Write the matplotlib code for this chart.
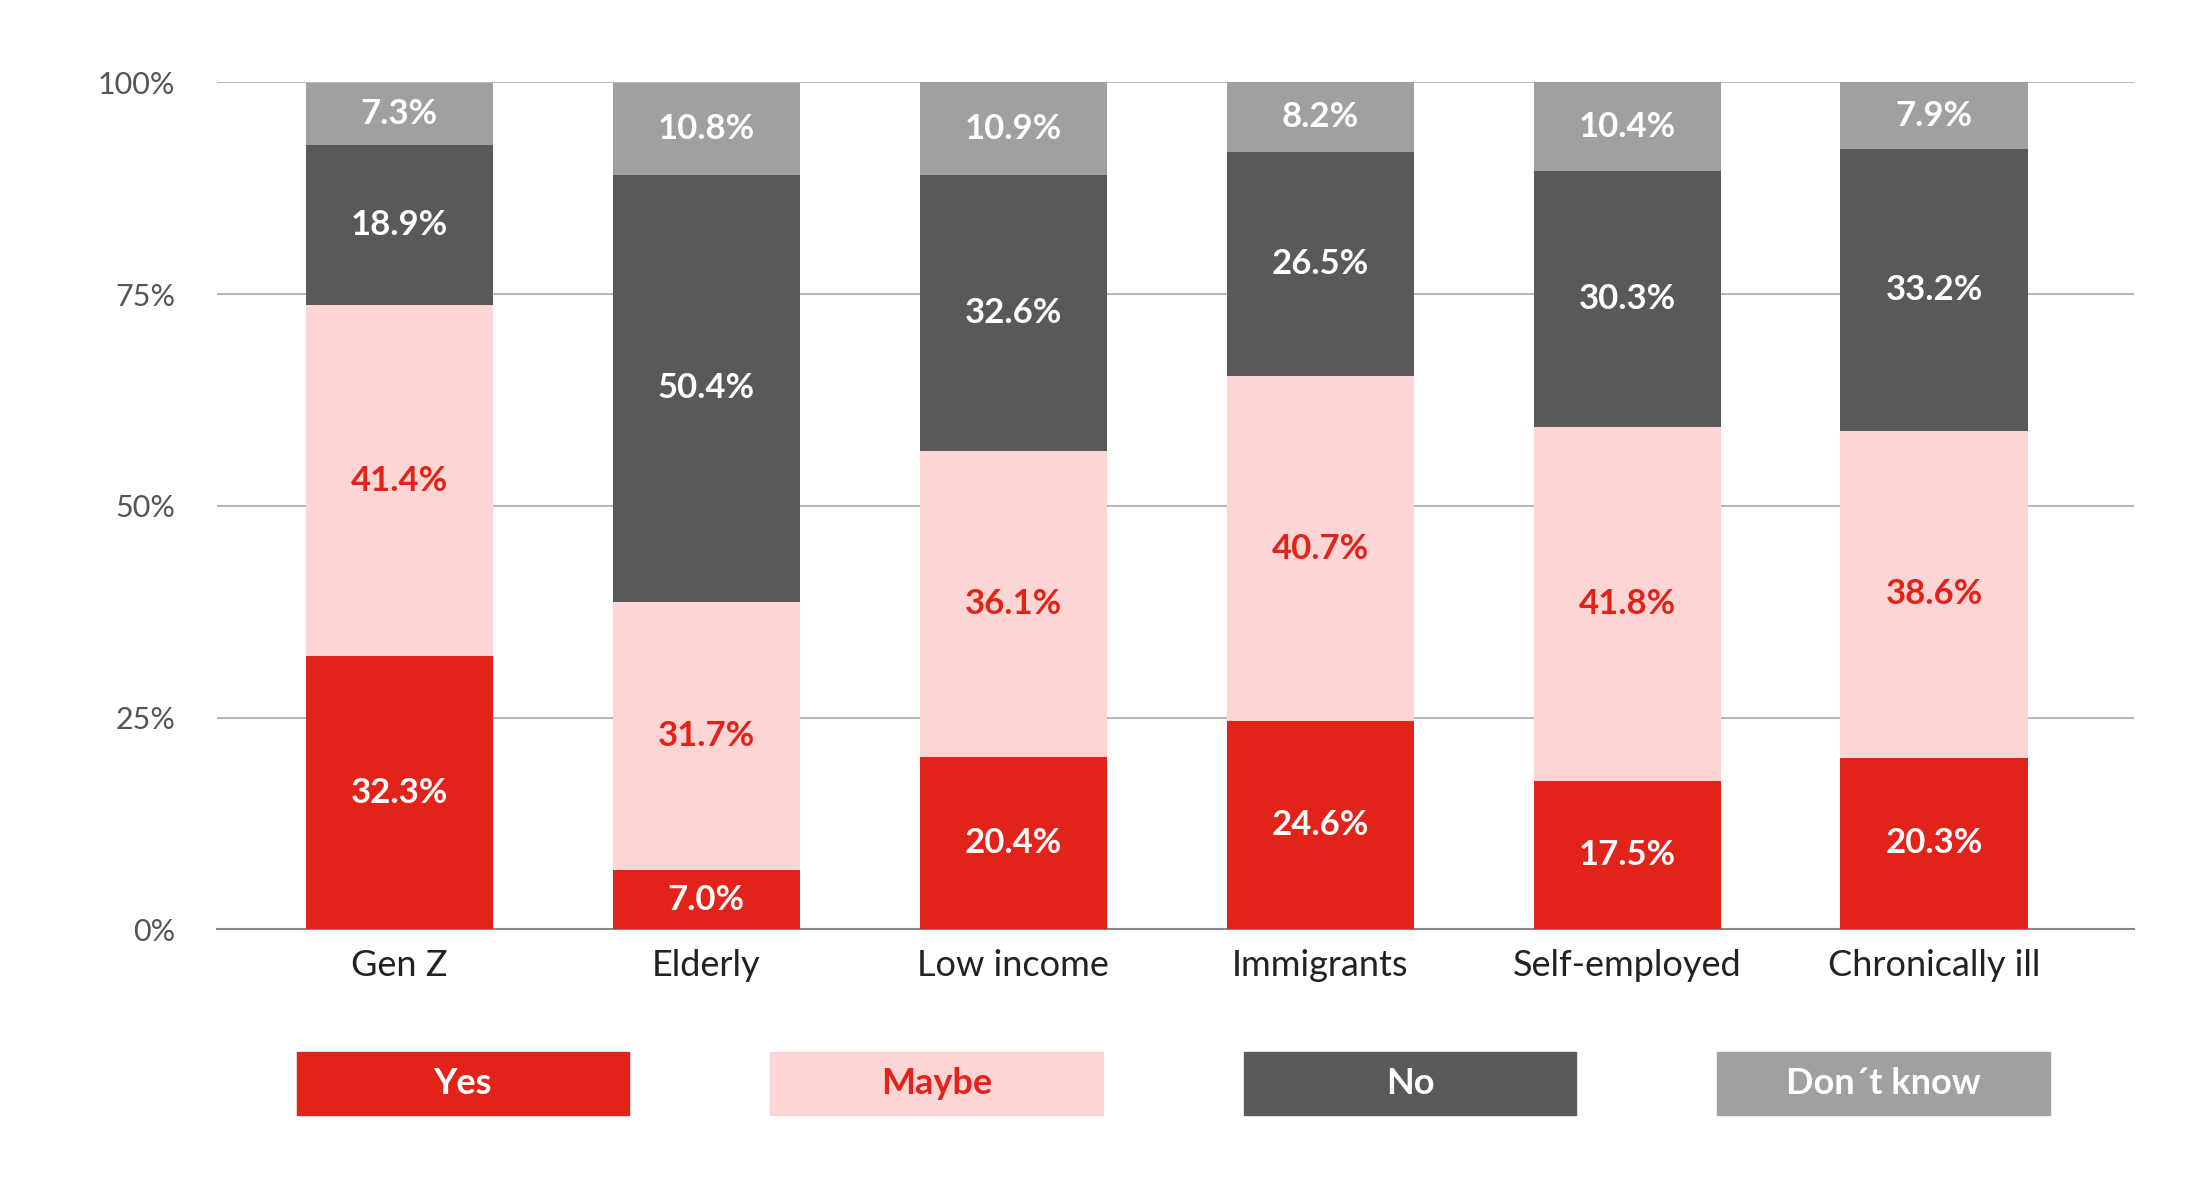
import matplotlib
matplotlib.use("Agg")
import matplotlib.pyplot as plt
from matplotlib.patches import Rectangle

categories = ["Gen Z", "Elderly", "Low income", "Immigrants", "Self-employed", "Chronically ill"]
yes = [32.3, 7.0, 20.4, 24.6, 17.5, 20.3]
maybe = [41.4, 31.7, 36.1, 40.7, 41.8, 38.6]
no = [18.9, 50.4, 32.6, 26.5, 30.3, 33.2]
dk = [7.3, 10.8, 10.9, 8.2, 10.4, 7.9]
series_names = ["Yes", "Maybe", "No", "Don\u00b4t know"]
colors = ["#e2231a", "#fdd5d5", "#595959", "#a0a0a0"]
txtcolors = ["white", "#e2231a", "white", "white"]
ticks = [0, 25, 50, 75, 100]

plt.rcParams['font.family'] = ['Lato', 'DejaVu Sans']
fig = plt.figure(figsize=(22.11, 11.78), dpi=100)
ax = fig.add_axes([0.098, 0.211, 0.867, 0.719])
x = list(range(len(categories)))
bottom = [0]*6
for vals, c, tc in zip([yes, maybe, no, dk], colors, txtcolors):
    ax.bar(x, vals, bottom=bottom, width=0.61, color=c, zorder=3)
    for i, v in enumerate(vals):
        ax.text(i, bottom[i] + v/2, f"{v:.1f}%", ha="center", va="center",
                color=tc, fontsize=25, fontweight="bold", zorder=4)
    bottom = [b + v for b, v in zip(bottom, vals)]
ax.set_xlim(-0.595, 5.65)
ax.set_ylim(0, 100)
ax.set_yticks(ticks)
ax.set_yticklabels([f"{t}%" for t in ticks], fontsize=22, color="#555555")
ax.set_xticks(x)
ax.set_xticklabels(categories, fontsize=26, color="#222222")
ax.tick_params(length=0, pad=14)
ax.tick_params(axis='y', pad=30)
ax.grid(axis='y', color="#aaaaaa", linewidth=1.2, zorder=0)
for s in ["top", "right", "left"]:
    ax.spines[s].set_visible(False)
ax.spines["bottom"].set_color("#888888")
ax.spines["bottom"].set_linewidth(1.5)

lx = [208, 540, 872, 1204]
for L, name, c, tc in zip(lx, series_names, colors, txtcolors):
    fx = L/1550; fw = 233/1550
    fy = 1 - 782/826; fh = 44/826
    fig.patches.append(Rectangle((fx, fy), fw, fh, transform=fig.transFigure, color=c))
    fig.text(fx + fw/2, fy + fh/2, name, ha="center", va="center", color=tc,
             fontsize=26, fontweight="bold")
fig.savefig("out.png", dpi=100, facecolor="white")
